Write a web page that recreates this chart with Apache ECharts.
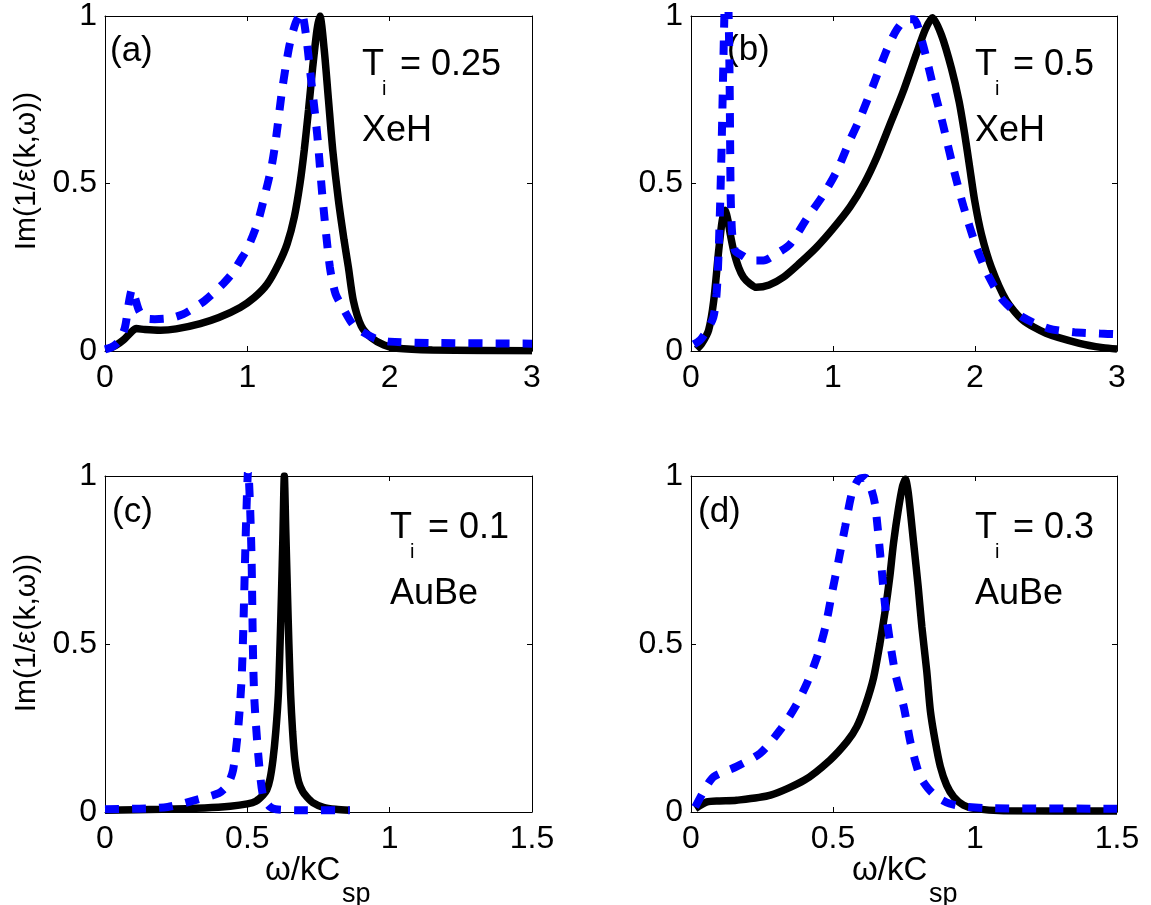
<!DOCTYPE html>
<html>
<head>
<meta charset="utf-8">
<script src="https://cdn.jsdelivr.net/npm/echarts@6/dist/echarts.min.js"></script>
<style>
  html, body { margin: 0; padding: 0; background: #fff; }
  #chart { width: 1151px; height: 905px; }
</style>
</head>
<body>
<div id="chart"></div>
<script>
// (a) XeH, Ti = 0.25
const aSolid = [[0.03,0.008],[0.08,0.018],[0.13,0.033],[0.18,0.055],[0.22,0.067],[0.28,0.064],[0.39,0.062],[0.5,0.066],[0.67,0.082],[0.8,0.1],[0.95,0.13],[1.05,0.16],[1.14,0.2],[1.22,0.26],[1.28,0.32],[1.33,0.4],[1.37,0.5],[1.4,0.6],[1.43,0.72],[1.46,0.85],[1.49,0.96],[1.51,1.0],[1.54,0.9],[1.57,0.75],[1.6,0.6],[1.64,0.45],[1.68,0.33],[1.71,0.25],[1.745,0.15],[1.8,0.075],[1.87,0.04],[1.96,0.018],[2.05,0.008],[2.3,0.003],[3.0,0.001]]
const aDash = [[0.0,0.005],[0.05,0.012],[0.1,0.03],[0.14,0.07],[0.17,0.15],[0.19,0.185],[0.21,0.16],[0.24,0.12],[0.28,0.098],[0.35,0.095],[0.46,0.098],[0.55,0.11],[0.63,0.13],[0.7,0.15],[0.77,0.176],[0.84,0.205],[0.9,0.235],[0.95,0.27],[1.0,0.305],[1.07,0.38],[1.12,0.46],[1.17,0.55],[1.2,0.63],[1.24,0.765],[1.27,0.85],[1.3,0.92],[1.34,0.98],[1.38,1.01],[1.41,0.95],[1.44,0.84],[1.49,0.65],[1.53,0.45],[1.58,0.25],[1.62,0.17],[1.67,0.13],[1.74,0.08],[1.81,0.057],[1.9,0.037],[2.0,0.028],[2.3,0.024],[3.0,0.022]]

// (b) XeH, Ti = 0.5
const bSolid = [[0.04,0.005],[0.077,0.023],[0.124,0.062],[0.16,0.15],[0.195,0.3],[0.22,0.39],[0.24,0.42],[0.26,0.39],[0.276,0.35],[0.3,0.3],[0.335,0.25],[0.37,0.22],[0.417,0.2],[0.46,0.19],[0.55,0.197],[0.65,0.22],[0.76,0.26],[0.885,0.31],[1.0,0.365],[1.12,0.43],[1.22,0.5],[1.31,0.58],[1.4,0.675],[1.49,0.77],[1.59,0.89],[1.65,0.96],[1.7,0.995],[1.764,0.943],[1.834,0.844],[1.888,0.745],[1.928,0.646],[1.963,0.547],[1.998,0.448],[2.045,0.349],[2.115,0.25],[2.22,0.151],[2.337,0.092],[2.5,0.053],[2.736,0.023],[2.9,0.01],[3.0,0.006]]
const bDash = [[0.02,0.02],[0.065,0.033],[0.11,0.06],[0.157,0.1],[0.18,0.17],[0.195,0.3],[0.206,0.45],[0.215,0.6],[0.225,0.8],[0.235,1.0],[0.25,1.2],[0.265,1.0],[0.272,0.8],[0.276,0.6],[0.28,0.45],[0.29,0.35],[0.31,0.3],[0.36,0.285],[0.43,0.27],[0.51,0.27],[0.6,0.29],[0.7,0.32],[0.815,0.395],[0.93,0.465],[1.03,0.54],[1.12,0.63],[1.19,0.695],[1.28,0.79],[1.38,0.9],[1.45,0.96],[1.52,0.99],[1.57,0.99],[1.63,0.92],[1.7,0.8],[1.775,0.675],[1.845,0.55],[1.92,0.43],[2.01,0.31],[2.1,0.22],[2.2,0.15],[2.34,0.1],[2.52,0.067],[2.7,0.056],[2.88,0.052],[3.0,0.05]]

// (c) AuBe, Ti = 0.1
const cSolid = [[0,0.005],[0.2,0.008],[0.35,0.012],[0.44,0.017],[0.5,0.024],[0.53,0.032],[0.555,0.05],[0.568,0.065],[0.58,0.1],[0.59,0.155],[0.6,0.24],[0.609,0.35],[0.615,0.5],[0.62,0.65],[0.625,0.82],[0.63,1.0],[0.635,0.84],[0.641,0.65],[0.646,0.5],[0.652,0.35],[0.659,0.24],[0.667,0.155],[0.68,0.09],[0.695,0.06],[0.708,0.046],[0.73,0.028],[0.767,0.014],[0.81,0.008],[0.86,0.005]]
const cDash = [[0,0.008],[0.12,0.01],[0.22,0.015],[0.32,0.036],[0.4,0.056],[0.43,0.08],[0.45,0.125],[0.468,0.25],[0.48,0.4],[0.486,0.55],[0.492,0.75],[0.497,0.9],[0.503,1.02],[0.51,0.9],[0.515,0.75],[0.52,0.47],[0.525,0.33],[0.54,0.155],[0.556,0.045],[0.58,0.015],[0.6,0.008],[0.7,0.005],[0.86,0.005]]

// (d) AuBe, Ti = 0.3
const dSolid = [[0.015,0.01],[0.056,0.03],[0.1,0.033],[0.16,0.035],[0.28,0.05],[0.4,0.095],[0.49,0.155],[0.55,0.21],[0.584,0.254],[0.615,0.32],[0.643,0.4],[0.665,0.5],[0.684,0.6],[0.7,0.7],[0.713,0.8],[0.73,0.9],[0.745,0.97],[0.755,0.99],[0.765,0.95],[0.784,0.8],[0.8,0.67],[0.813,0.55],[0.83,0.42],[0.843,0.3],[0.86,0.21],[0.878,0.135],[0.9,0.08],[0.925,0.045],[0.96,0.02],[1.0,0.01],[1.1,0.004],[1.5,0.003]]
const dDash = [[0.015,0.015],[0.05,0.07],[0.08,0.105],[0.16,0.135],[0.244,0.175],[0.314,0.244],[0.367,0.313],[0.408,0.383],[0.444,0.462],[0.473,0.55],[0.496,0.65],[0.52,0.75],[0.543,0.85],[0.567,0.95],[0.59,0.99],[0.614,0.995],[0.635,0.96],[0.649,0.91],[0.667,0.76],[0.684,0.61],[0.7,0.51],[0.72,0.41],[0.75,0.31],[0.772,0.21],[0.79,0.15],[0.807,0.105],[0.835,0.07],[0.866,0.045],[0.91,0.025],[0.96,0.016],[1.05,0.011],[1.5,0.01]]

const panelTags = ['(a)', '(b)', '(c)', '(d)']
const panelTemps = ['0.25', '0.5', '0.1', '0.3']
const panelGas = ['XeH', 'XeH', 'AuBe', 'AuBe']
const xMax = [3, 3, 1.5, 1.5]
const xStep = [1, 1, 0.5, 0.5]

const FONT = '"Liberation Sans", Arial, Helvetica, sans-serif'
const chart = echarts.init(document.getElementById('chart'))

const grids = [
  { left: 105, top: 14, width: 427, height: 337 },
  { left: 691, top: 14, width: 426, height: 337 },
  { left: 105, top: 476, width: 427, height: 336 },
  { left: 691, top: 476, width: 426, height: 336 }
]
const solids = [aSolid, bSolid, cSolid, dSolid]
const dashes = [aDash, bDash, cDash, dDash]

const xAxes = []
const yAxes = []
const series = []
grids.forEach((g, i) => {
  const base = {
    gridIndex: i,
    type: 'value',
    splitLine: { show: false },
    axisLine: { show: true, onZero: false, lineStyle: { color: '#000', width: 1 } },
    axisTick: { show: true, inside: true, length: 5, lineStyle: { color: '#000' } }
  }
  // bottom (labels) + top (ticks only), MATLAB style box
  xAxes.push(Object.assign({}, base, {
    position: 'bottom', min: 0, max: xMax[i], interval: xStep[i],
    axisLabel: { color: '#000', fontSize: 32, fontFamily: FONT, margin: 11 }
  }))
  xAxes.push(Object.assign({}, base, {
    position: 'top', min: 0, max: xMax[i], interval: xStep[i],
    axisLabel: { show: false }
  }))
  yAxes.push(Object.assign({}, base, {
    position: 'left', min: 0, max: 1, interval: 0.5,
    axisLabel: { color: '#000', fontSize: 32, fontFamily: FONT, margin: 8 }
  }))
  yAxes.push(Object.assign({}, base, {
    position: 'right', min: 0, max: 1, interval: 0.5,
    axisLabel: { show: false }
  }))
  series.push({
    type: 'line', xAxisIndex: 2 * i, yAxisIndex: 2 * i,
    data: solids[i], symbol: 'none', smooth: 0.25, clip: true,
    lineStyle: { color: '#000', width: 7.5 }
  })
  series.push({
    type: 'line', xAxisIndex: 2 * i, yAxisIndex: 2 * i,
    data: dashes[i], symbol: 'none', smooth: 0.25, clip: true,
    lineStyle: { color: '#0000ff', width: 8, type: [14, 13], cap: 'butt' }
  })
})

// text positions: tag, T_i line, material line
const tagPos = [[110, 51], [727, 50], [112, 512], [698, 512]]
const tPos = [[362, 65], [975, 65], [390, 528], [975, 528]]
const gasY = [131, 131, 594, 594]

function txt(x, y, text, size, extra) {
  return Object.assign({
    type: 'text', x: x, y: y, silent: true,
    style: { text: text, fill: '#000', font: size + 'px ' + FONT, textAlign: 'left', textVerticalAlign: 'middle' }
  }, extra || {})
}

const graphics = []
for (let i = 0; i < 4; i++) {
  graphics.push(txt(tagPos[i][0], tagPos[i][1], panelTags[i], 35))
  const tx = tPos[i][0], ty = tPos[i][1]
  graphics.push(txt(tx, ty, 'T', 36))
  graphics.push(txt(tx + 20, ty + 24, 'i', 20))
  graphics.push(txt(tx + 38, ty, '= ' + panelTemps[i], 36))
  graphics.push(txt(tx, gasY[i], panelGas[i], 36))
}
// y axis titles
;[171, 633].forEach(cy => {
  graphics.push({
    type: 'text', x: 27, y: cy, rotation: Math.PI / 2, silent: true,
    style: { text: 'Im(1/ε(k,ω))', fill: '#000', font: '30px ' + FONT, textAlign: 'center', textVerticalAlign: 'middle' }
  })
})
// x axis titles
;[265, 852].forEach(lx => {
  graphics.push(txt(lx, 871, 'ω/kC', 33))
  graphics.push(txt(lx + 77, 895, 'sp', 27))
})

chart.setOption({
  animation: false,
  backgroundColor: '#fff',
  grid: grids,
  xAxis: xAxes,
  yAxis: yAxes,
  series: series,
  graphic: graphics
})
</script>
</body>
</html>
